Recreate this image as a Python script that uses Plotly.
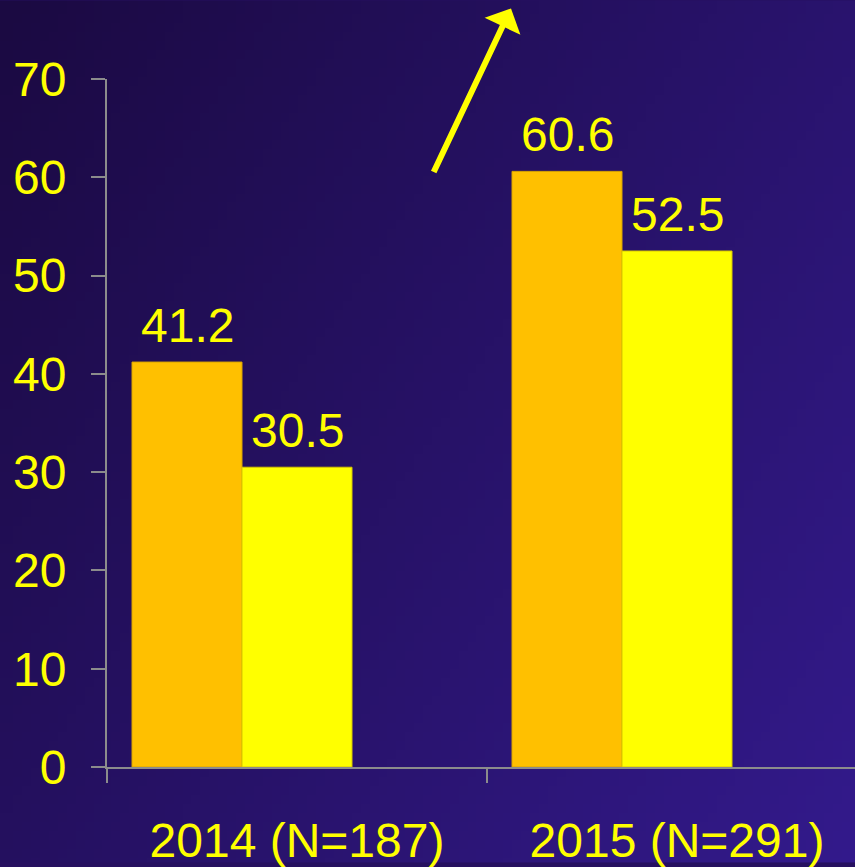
import base64, struct, zlib
import numpy as np
import plotly.graph_objects as go

# ---- data ----
categories = ["2014 (N=187)", "2015 (N=291)"]
series_a = [41.2, 60.6]   # orange bars
series_b = [30.5, 52.5]   # yellow bars
y_ticks = [0, 10, 20, 30, 40, 50, 60, 70]

# ---- background gradient image (decoration) ----
def gradient_png(w=96, h=96, c0=(0x1B, 0x0A, 0x42), c1=(0x33, 0x1A, 0x8C)):
    xs = np.linspace(0, 1, w)[None, :]
    ys = np.linspace(0, 1, h)[:, None]
    t = np.clip(0.6 * xs + 0.4 * ys, 0, 1)
    img = np.zeros((h, w, 3), dtype=np.uint8)
    for k in range(3):
        img[:, :, k] = (c0[k] + (c1[k] - c0[k]) * t).astype(np.uint8)
    raw = b"".join(b"\x00" + img[r].tobytes() for r in range(h))
    def chunk(tag, data):
        c = struct.pack(">I", len(data)) + tag + data
        return c + struct.pack(">I", zlib.crc32(tag + data) & 0xFFFFFFFF)
    png = b"\x89PNG\r\n\x1a\n" + chunk(b"IHDR", struct.pack(">IIBBBBB", w, h, 8, 2, 0, 0, 0)) \
        + chunk(b"IDAT", zlib.compress(raw, 9)) + chunk(b"IEND", b"")
    return "data:image/png;base64," + base64.b64encode(png).decode()

W, H = 855, 867
ML, MR, MT, MB = 107, 0, 79, 96
PW, PH = W - ML - MR, H - MT - MB
CAT_PX = 380.0          # pixel width of one category
BAR_W = 110.0 / CAT_PX  # bar width in category units

FONT = "Liberation Sans, Arial, sans-serif"
FS = 48

fig = go.Figure()
fig.add_trace(go.Bar(
    x=categories, y=series_a, width=BAR_W, offset=-1.5 * BAR_W,
    marker=dict(color="#FFC000", line=dict(color="#D9A400", width=1)),
))
fig.add_trace(go.Bar(
    x=categories, y=series_b, width=BAR_W, offset=-0.5 * BAR_W,
    marker=dict(color="#FFFF00", line=dict(color="#D9C800", width=1)),
))

annotations = []
for vals, shift in ((series_a, -110), (series_b, 0)):
    for c, v in zip(categories, vals):
        annotations.append(dict(
            x=c, y=v, xref="x", yref="y", text=f"{v:.1f}", showarrow=False,
            xanchor="center", yanchor="bottom", xshift=shift, yshift=8,
            font=dict(color="#FFFF00", size=FS, family=FONT),
        ))

annotations.append(dict(
    xref="paper", yref="paper",
    x=(511 - ML) / PW, y=(MT + PH - 8) / PH,
    axref="pixel", ayref="pixel", ax=-78, ay=165,
    text="", showarrow=True, arrowhead=1, arrowsize=1.1, arrowwidth=6,
    arrowcolor="#FFFF00", standoff=0,
))

fig.update_layout(
    width=W, height=H,
    margin=dict(l=ML, r=MR, t=MT, b=MB, pad=0),
    barmode="overlay",
    showlegend=False,
    paper_bgcolor="#261060", plot_bgcolor="rgba(0,0,0,0)",
    font=dict(family=FONT, color="#FFFF00", size=FS),
    images=[dict(source=gradient_png(), xref="paper", yref="paper",
                 x=-ML / PW, y=1 + MT / PH, sizex=W / PW, sizey=H / PH,
                 sizing="stretch", xanchor="left", yanchor="top", layer="below")],
    xaxis=dict(
        range=[-0.5, 1.5 - 12 / CAT_PX], showgrid=False, zeroline=False,
        showline=True, linecolor="#8C8C8C", linewidth=2,
        ticks="outside", ticklen=14, tickwidth=2, tickcolor="#8C8C8C",
        tickson="boundaries", ticklabelstandoff=30,
        tickfont=dict(size=FS, color="#FFFF00", family=FONT),
    ),
    yaxis=dict(
        range=[0, 70], tickvals=y_ticks, showgrid=False, zeroline=False,
        showline=True, linecolor="#8C8C8C", linewidth=2,
        ticks="outside", ticklen=14, tickwidth=2, tickcolor="#8C8C8C",
        ticklabelstandoff=15,
        tickfont=dict(size=FS, color="#FFFF00", family=FONT),
    ),
    annotations=annotations,
)

fig.write_html("out.html", config={"displayModeBar": False},
               post_script="document.body.style.margin='0';")
